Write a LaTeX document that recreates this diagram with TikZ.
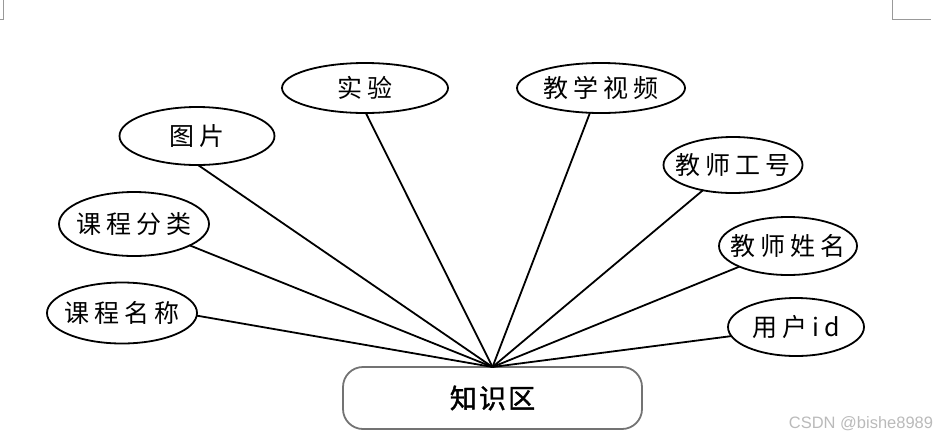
\documentclass[tikz,border=0pt]{standalone}
\usepackage{fontspec}
\setmainfont{Liberation Serif}
\newfontfamily\cjk[LetterSpace=20]{Noto Sans CJK SC}
\newfontfamily\cjkbox[LetterSpace=8,FakeBold=1.5]{Noto Sans CJK SC}
\newfontfamily\wmfont{Liberation Sans}
\usetikzlibrary{shapes.geometric}
\tikzset{
  attr/.style={ellipse, draw=black, line width=1.8pt, inner sep=0pt, outer sep=0pt,
    font=\cjk\fontsize{25}{25}\selectfont},
  entity/.style={rectangle, rounded corners=20pt, draw=black!55, line width=1.8pt,
    minimum width=299pt, minimum height=62pt, inner sep=0pt, outer sep=0pt,
    font=\cjkbox\fontsize{27}{27}\selectfont},
  link/.style={line width=1.8pt, black},
  cornermark/.style={draw=black!40, line width=1pt}
}
\newcommand{\zw}[1]{\makebox[0pt]{#1}}
\begin{document}
\begin{tikzpicture}[x=1pt, y=-1pt]
\useasboundingbox (0,0) rectangle (942,440);
% page corner marks
\draw[cornermark] (3,0) -- (3,19) -- (0,19);
\draw[cornermark] (892,0) -- (892,19) -- (931,19);
% entity
\node[entity] (box) at (492.5,398) {知识区};
% attributes
\node[attr, minimum width=150pt, minimum height=61pt] (kcmc) at (122,313) {\zw{课程名称}};
\node[attr, minimum width=150pt, minimum height=64pt] (kcfl) at (134,224) {\zw{课程分类}};
\node[attr, minimum width=155pt, minimum height=58pt] (tp) at (197,136) {\zw{图片}};
\node[attr, minimum width=166pt, minimum height=50pt] (sy) at (365,88) {\zw{实验}};
\node[attr, minimum width=168pt, minimum height=50pt] (jxsp) at (601,88) {\zw{教学视频}};
\node[attr, minimum width=139pt, minimum height=56pt] (jsgh) at (733,165) {\zw{教师工号}};
\node[attr, minimum width=138pt, minimum height=58pt] (jsxm) at (788,246) {\zw{教师姓名}};
\node[attr, minimum width=136pt, minimum height=58pt] (yhid) at (796,327) {\zw{用户id}};
% connectors
\draw[link] (kcmc.358) -- (box.north);
\draw[link] (kcfl.339) -- (box.north);
\draw[link] (tp.272) -- (box.north);
\draw[link] (sy.272) -- (box.north);
\draw[link] (jxsp.246) -- (box.north);
\draw[link] (jsgh.220) -- (box.north);
\draw[link] (jsxm.203) -- (box.north);
\draw[link] (yhid.188) -- (box.north);
% watermark
\node[font=\wmfont\fontsize{16.5}{16.5}\selectfont, text=black!27, inner sep=0pt] (wm) at (861,424) {CSDN @bishe8989};
\end{tikzpicture}
\end{document}
